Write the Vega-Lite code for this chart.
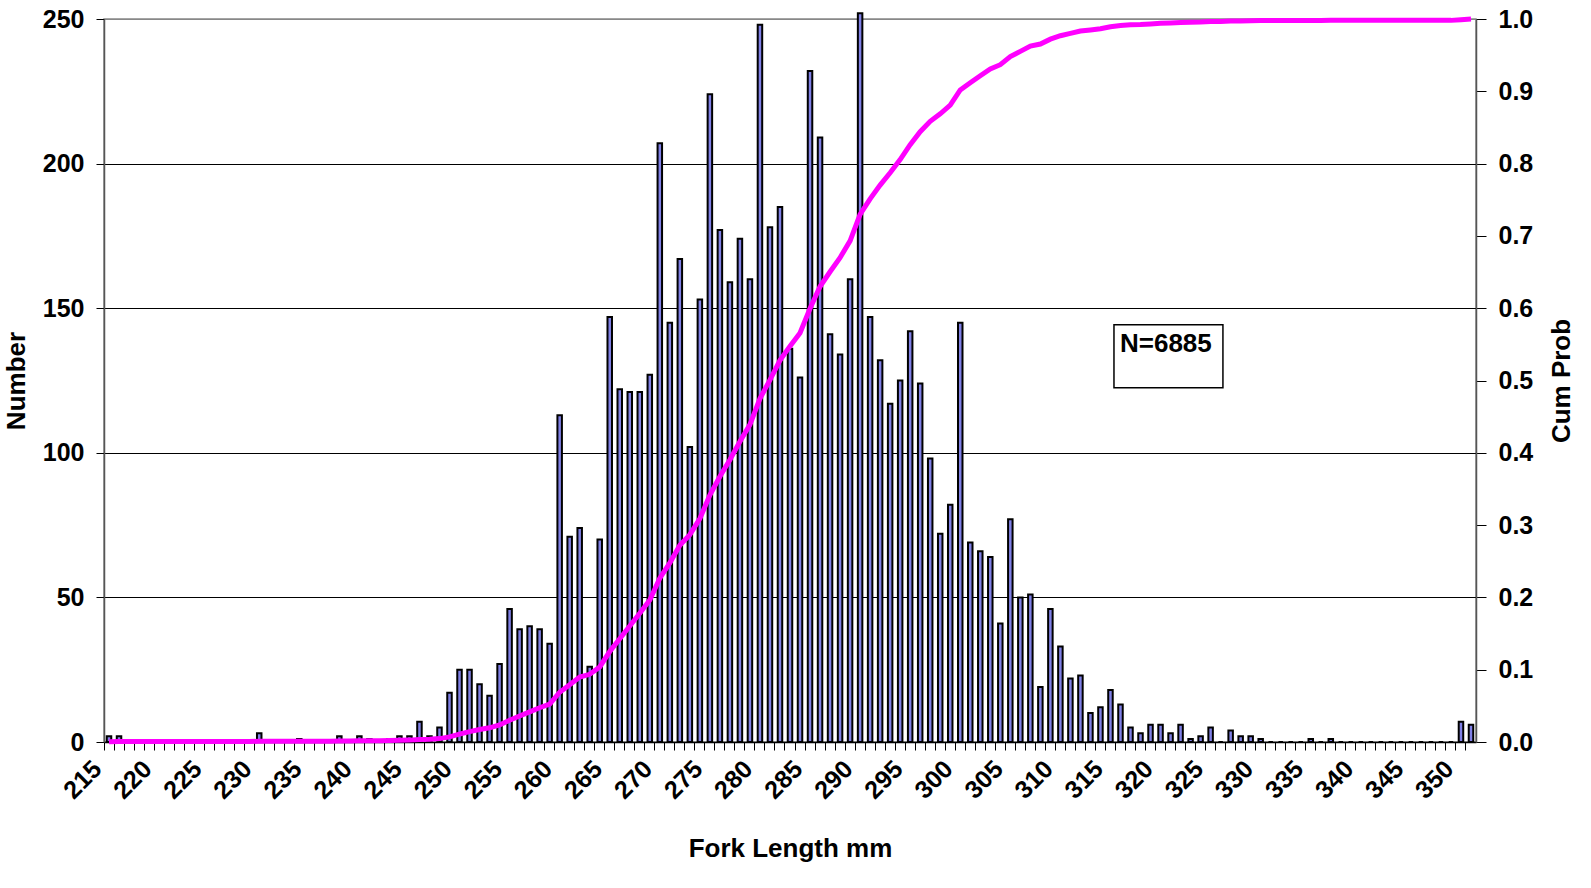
{
  "$schema": "https://vega.github.io/schema/vega-lite/v6.json",
  "width": 1372,
  "height": 723,
  "autosize": {"type": "none"},
  "padding": {"left": 104, "top": 19, "right": 115, "bottom": 146},
  "background": "#ffffff",
  "config": {
    "font": "Liberation Sans",
    "view": {"stroke": "#888888", "strokeWidth": 1.5},
    "axis": {
      "labelFont": "Liberation Sans",
      "labelFontSize": 25,
      "labelFontWeight": "bold",
      "labelColor": "#000000",
      "titleFont": "Liberation Sans",
      "titleFontSize": 26,
      "titleFontWeight": "bold",
      "titleColor": "#000000",
      "tickColor": "#000000",
      "domainColor": "#000000"
    }
  },
  "datasets": {
    "hist": [
      {"len": 215, "count": 2, "cum": 0.0003},
      {"len": 216, "count": 2, "cum": 0.0006},
      {"len": 217, "count": 0, "cum": 0.0006},
      {"len": 218, "count": 0, "cum": 0.0006},
      {"len": 219, "count": 0, "cum": 0.0006},
      {"len": 220, "count": 0, "cum": 0.0006},
      {"len": 221, "count": 0, "cum": 0.0006},
      {"len": 222, "count": 0, "cum": 0.0006},
      {"len": 223, "count": 0, "cum": 0.0006},
      {"len": 224, "count": 0, "cum": 0.0006},
      {"len": 225, "count": 0, "cum": 0.0006},
      {"len": 226, "count": 0, "cum": 0.0006},
      {"len": 227, "count": 0, "cum": 0.0006},
      {"len": 228, "count": 0, "cum": 0.0006},
      {"len": 229, "count": 0, "cum": 0.0006},
      {"len": 230, "count": 3, "cum": 0.0010},
      {"len": 231, "count": 0, "cum": 0.0010},
      {"len": 232, "count": 0, "cum": 0.0010},
      {"len": 233, "count": 0, "cum": 0.0010},
      {"len": 234, "count": 1, "cum": 0.0012},
      {"len": 235, "count": 0, "cum": 0.0012},
      {"len": 236, "count": 0, "cum": 0.0012},
      {"len": 237, "count": 0, "cum": 0.0012},
      {"len": 238, "count": 2, "cum": 0.0015},
      {"len": 239, "count": 0, "cum": 0.0015},
      {"len": 240, "count": 2, "cum": 0.0017},
      {"len": 241, "count": 1, "cum": 0.0019},
      {"len": 242, "count": 0, "cum": 0.0019},
      {"len": 243, "count": 1, "cum": 0.0020},
      {"len": 244, "count": 2, "cum": 0.0023},
      {"len": 245, "count": 2, "cum": 0.0026},
      {"len": 246, "count": 7, "cum": 0.0036},
      {"len": 247, "count": 2, "cum": 0.0039},
      {"len": 248, "count": 5, "cum": 0.0047},
      {"len": 249, "count": 17, "cum": 0.0071},
      {"len": 250, "count": 25, "cum": 0.0108},
      {"len": 251, "count": 25, "cum": 0.0144},
      {"len": 252, "count": 20, "cum": 0.0173},
      {"len": 253, "count": 16, "cum": 0.0196},
      {"len": 254, "count": 27, "cum": 0.0235},
      {"len": 255, "count": 46, "cum": 0.0302},
      {"len": 256, "count": 39, "cum": 0.0359},
      {"len": 257, "count": 40, "cum": 0.0417},
      {"len": 258, "count": 39, "cum": 0.0474},
      {"len": 259, "count": 34, "cum": 0.0523},
      {"len": 260, "count": 113, "cum": 0.0688},
      {"len": 261, "count": 71, "cum": 0.0791},
      {"len": 262, "count": 74, "cum": 0.0898},
      {"len": 263, "count": 26, "cum": 0.0936},
      {"len": 264, "count": 70, "cum": 0.1038},
      {"len": 265, "count": 147, "cum": 0.1251},
      {"len": 266, "count": 122, "cum": 0.1429},
      {"len": 267, "count": 121, "cum": 0.1605},
      {"len": 268, "count": 121, "cum": 0.1781},
      {"len": 269, "count": 127, "cum": 0.1965},
      {"len": 270, "count": 207, "cum": 0.2266},
      {"len": 271, "count": 145, "cum": 0.2477},
      {"len": 272, "count": 167, "cum": 0.2720},
      {"len": 273, "count": 102, "cum": 0.2868},
      {"len": 274, "count": 153, "cum": 0.3090},
      {"len": 275, "count": 224, "cum": 0.3416},
      {"len": 276, "count": 177, "cum": 0.3673},
      {"len": 277, "count": 159, "cum": 0.3904},
      {"len": 278, "count": 174, "cum": 0.4157},
      {"len": 279, "count": 160, "cum": 0.4390},
      {"len": 280, "count": 248, "cum": 0.4750},
      {"len": 281, "count": 178, "cum": 0.5009},
      {"len": 282, "count": 185, "cum": 0.5278},
      {"len": 283, "count": 136, "cum": 0.5475},
      {"len": 284, "count": 126, "cum": 0.5658},
      {"len": 285, "count": 232, "cum": 0.5996},
      {"len": 286, "count": 209, "cum": 0.6299},
      {"len": 287, "count": 141, "cum": 0.6504},
      {"len": 288, "count": 134, "cum": 0.6699},
      {"len": 289, "count": 160, "cum": 0.6932},
      {"len": 290, "count": 252, "cum": 0.7298},
      {"len": 291, "count": 147, "cum": 0.7512},
      {"len": 292, "count": 132, "cum": 0.7703},
      {"len": 293, "count": 117, "cum": 0.7874},
      {"len": 294, "count": 125, "cum": 0.8055},
      {"len": 295, "count": 142, "cum": 0.8262},
      {"len": 296, "count": 124, "cum": 0.8442},
      {"len": 297, "count": 98, "cum": 0.8584},
      {"len": 298, "count": 72, "cum": 0.8689},
      {"len": 299, "count": 82, "cum": 0.8808},
      {"len": 300, "count": 145, "cum": 0.9019},
      {"len": 301, "count": 69, "cum": 0.9119},
      {"len": 302, "count": 66, "cum": 0.9215},
      {"len": 303, "count": 64, "cum": 0.9308},
      {"len": 304, "count": 41, "cum": 0.9368},
      {"len": 305, "count": 77, "cum": 0.9480},
      {"len": 306, "count": 50, "cum": 0.9552},
      {"len": 307, "count": 51, "cum": 0.9626},
      {"len": 308, "count": 19, "cum": 0.9654},
      {"len": 309, "count": 46, "cum": 0.9721},
      {"len": 310, "count": 33, "cum": 0.9769},
      {"len": 311, "count": 22, "cum": 0.9801},
      {"len": 312, "count": 23, "cum": 0.9834},
      {"len": 313, "count": 10, "cum": 0.9849},
      {"len": 314, "count": 12, "cum": 0.9866},
      {"len": 315, "count": 18, "cum": 0.9892},
      {"len": 316, "count": 13, "cum": 0.9911},
      {"len": 317, "count": 5, "cum": 0.9919},
      {"len": 318, "count": 3, "cum": 0.9923},
      {"len": 319, "count": 6, "cum": 0.9932},
      {"len": 320, "count": 6, "cum": 0.9940},
      {"len": 321, "count": 3, "cum": 0.9945},
      {"len": 322, "count": 6, "cum": 0.9953},
      {"len": 323, "count": 1, "cum": 0.9955},
      {"len": 324, "count": 2, "cum": 0.9958},
      {"len": 325, "count": 5, "cum": 0.9965},
      {"len": 326, "count": 0, "cum": 0.9965},
      {"len": 327, "count": 4, "cum": 0.9971},
      {"len": 328, "count": 2, "cum": 0.9974},
      {"len": 329, "count": 2, "cum": 0.9977},
      {"len": 330, "count": 1, "cum": 0.9978},
      {"len": 331, "count": 0, "cum": 0.9978},
      {"len": 332, "count": 0, "cum": 0.9978},
      {"len": 333, "count": 0, "cum": 0.9978},
      {"len": 334, "count": 0, "cum": 0.9978},
      {"len": 335, "count": 1, "cum": 0.9980},
      {"len": 336, "count": 0, "cum": 0.9980},
      {"len": 337, "count": 1, "cum": 0.9981},
      {"len": 338, "count": 0, "cum": 0.9981},
      {"len": 339, "count": 0, "cum": 0.9981},
      {"len": 340, "count": 0, "cum": 0.9981},
      {"len": 341, "count": 0, "cum": 0.9981},
      {"len": 342, "count": 0, "cum": 0.9981},
      {"len": 343, "count": 0, "cum": 0.9981},
      {"len": 344, "count": 0, "cum": 0.9981},
      {"len": 345, "count": 0, "cum": 0.9981},
      {"len": 346, "count": 0, "cum": 0.9981},
      {"len": 347, "count": 0, "cum": 0.9981},
      {"len": 348, "count": 0, "cum": 0.9981},
      {"len": 349, "count": 0, "cum": 0.9981},
      {"len": 350, "count": 7, "cum": 0.9991},
      {"len": 351, "count": 6, "cum": 1.0}
    ]
  },
  "layer": [
    {
      "data": {"name": "hist"},
      "layer": [
        {
          "mark": {"type": "bar", "fill": "#8080E6", "stroke": "#000000", "strokeWidth": 2, "size": 4.5},
          "encoding": {
            "x": {
              "field": "len",
              "type": "ordinal",
              "sort": "ascending",
              "scale": {"paddingInner": 0, "paddingOuter": 0},
              "axis": {
                "title": "Fork Length mm",
                "bandPosition": 0,
                "labelAngle": -45,
                "labelExpr": "datum.value % 5 === 0 ? datum.label : ''",
                "labelOverlap": false,
                "labelFlush": false,
                "labelOffset": -20,
                "tickSize": 8,
                "labelPadding": 6,
                "titlePadding": 32,
                "grid": false,
                "domainColor": "#000000",
                "domainWidth": 1.5
              }
            },
            "y": {
              "field": "count",
              "type": "quantitative",
              "scale": {"domain": [0, 250], "nice": false},
              "axis": {
                "title": "Number",
                "orient": "left",
                "values": [0, 50, 100, 150, 200, 250],
                "grid": true,
                "gridColor": {"condition": {"test": "datum.value === 250", "value": "#888888"}, "value": "#000000"},
                "gridWidth": 1,
                "tickSize": 8,
                "labelPadding": 12,
                "titlePadding": 13,
                "domainColor": "#555555",
                "domainWidth": 1.5
              }
            }
          }
        },
        {
          "mark": {"type": "line", "color": "#FF00FF", "strokeWidth": 5},
          "encoding": {
            "x": {"field": "len", "type": "ordinal", "sort": "ascending"},
            "y": {
              "field": "cum",
              "type": "quantitative",
              "scale": {"domain": [0, 1], "nice": false},
              "axis": {
                "title": "Cum Prob",
                "orient": "right",
                "values": [0, 0.1, 0.2, 0.3, 0.4, 0.5, 0.6, 0.7, 0.8, 0.9, 1.0],
                "format": ".1f",
                "grid": false,
                "tickSize": 10,
                "labelPadding": 12,
                "titlePadding": 42,
                "titleAngle": 270,
                "domainColor": "#555555",
                "domainWidth": 1.5
              }
            }
          }
        }
      ],
      "resolve": {"scale": {"y": "independent"}}
    },
    {
      "data": {"values": [{}]},
      "layer": [
        {
          "mark": {"type": "rect", "fill": "#ffffff", "stroke": "#000000", "strokeWidth": 1.5},
          "encoding": {
            "x": {"datum": 315.35, "type": "quantitative", "scale": {"domain": [214.5, 351.5], "nice": false, "zero": false}, "axis": null},
            "x2": {"datum": 326.23},
            "y": {"datum": 144.3, "type": "quantitative", "scale": {"domain": [0, 250], "nice": false}, "axis": null},
            "y2": {"datum": 122.5}
          }
        },
        {
          "mark": {"type": "text", "text": "N=6885", "font": "Liberation Sans", "fontSize": 26, "fontWeight": "bold", "align": "left", "baseline": "alphabetic", "color": "#000000"},
          "encoding": {
            "x": {"datum": 315.95, "type": "quantitative"},
            "y": {"datum": 134.8, "type": "quantitative"}
          }
        }
      ]
    }
  ],
  "resolve": {"scale": {"x": "independent", "y": "independent"}}
}
